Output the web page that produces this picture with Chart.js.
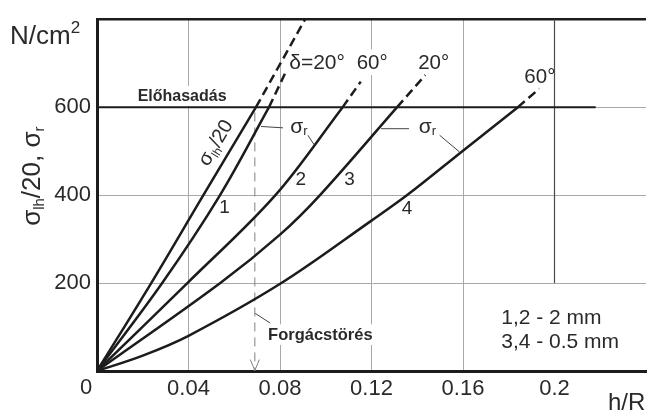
<!DOCTYPE html>
<html>
<head>
<meta charset="utf-8">
<script src="https://cdn.jsdelivr.net/npm/chart.js@4"></script>
<style>
  html, body { margin: 0; padding: 0; background: #fff; }
  canvas { display: block; }
</style>
</head>
<body>
<canvas id="chart" width="651" height="413"></canvas>
<script>
// axis ticks
const xTicks = [0, 0.04, 0.08, 0.12, 0.16, 0.2, 0.24];
const yTicks = [0, 200, 400, 600, 800];

// sigma_lh/20 curve
const lhX = [0, 0.0237, 0.0465, 0.0695];
const lhY = [0, 200, 400, 600];
// sigma_r curves 1..4
const r1X = [0, 0.0285, 0.0538, 0.0752];
const r1Y = [0, 200, 400, 600];
const r2X = [0, 0.0395, 0.078, 0.1074];
const r2Y = [0, 200, 400, 600];
const r3X = [0, 0.0539, 0.08, 0.0975, 0.1312];
const r3Y = [0, 200, 310, 400, 600];
const r4X = [0, 0.02, 0.04, 0.0806, 0.12, 0.1356, 0.16, 0.184];
const r4Y = [0, 35, 80, 200, 342, 400, 501, 600];

// dashed continuation above 600, order: lh, 1, 2, 3, 4
const tipX = [0.091, 0.0825, 0.1153, 0.1435, 0.1934];
const tipY = [800, 680, 658, 673, 642];

// Előhasadás line and Forgácstörés marker
const preSplitY = 600;
const preSplitEndX = 0.218;
const chipBreakX = 0.069;
const chipBreakY = [588, 0];

const FONT = '"Liberation Sans", Arial, sans-serif';
const INK = '#1c1c1c';
const GRID = '#a8a8a8';

Chart.defaults.font.family = FONT;
Chart.defaults.color = '#2a2a2a';

function pts(xs, ys) {
  return xs.map((x, i) => ({ x: x, y: ys[i] }));
}

const curves = [[lhX, lhY], [r1X, r1Y], [r2X, r2Y], [r3X, r3Y], [r4X, r4Y]];
const datasets = [];

curves.forEach(([xs, ys], i) => {
  datasets.push({
    data: pts(xs, ys),
    borderColor: INK, borderWidth: 2.5,
    tension: 0.35
  });
  // dashed part beyond the pre-split level
  const last = xs.length - 1;
  datasets.push({
    data: [{ x: xs[last], y: ys[last] }, { x: tipX[i], y: tipY[i] }],
    borderColor: INK, borderWidth: 2.5,
    borderDash: [9, 5]
  });
});

datasets.push({
  data: [{ x: 0, y: preSplitY }, { x: preSplitEndX, y: preSplitY }],
  borderColor: INK, borderWidth: 2
});
datasets.push({
  data: [{ x: chipBreakX, y: chipBreakY[0] }, { x: chipBreakX, y: chipBreakY[1] }],
  borderColor: '#808080', borderWidth: 1, borderDash: [9, 6]
});
// the 0.2 gridline only runs from 200 upward
datasets.push({
  data: [{ x: 0.2, y: 200 }, { x: 0.2, y: 800 }],
  borderColor: '#4a4a4a', borderWidth: 1.2
});

function drawParts(ctx, x, y, parts) {
  let cx = x;
  parts.forEach(([t, size, dy, bold]) => {
    ctx.font = (bold ? 'bold ' : '') + size + 'px ' + FONT;
    ctx.fillText(t, cx, y + dy);
    cx += ctx.measureText(t).width;
  });
  return cx - x;
}

function partsWidth(ctx, parts) {
  let w = 0;
  parts.forEach(([t, size, dy, bold]) => {
    ctx.font = (bold ? 'bold ' : '') + size + 'px ' + FONT;
    w += ctx.measureText(t).width;
  });
  return w;
}

// labels with a white box behind them (they cut the gridlines)
const boxed = [
  { parts: [['Előhasadás', 16, 0, true]], x: 0.0372, y: 627, align: 'center' },
  { parts: [['Forgácstörés', 16.5, 0, true]], x: 0.0748, y: 84, align: 'left' },
  { parts: [['60°', 20.5, 0]], x: 0.1203, y: 704, align: 'center' }
];

const plain = [
  { parts: [['1', 19, 0]], x: 0.0557, y: 375, align: 'center' },
  { parts: [['2', 19, 0]], x: 0.0891, y: 438, align: 'center' },
  { parts: [['3', 19, 0]], x: 0.1104, y: 438, align: 'center' },
  { parts: [['4', 19, 0]], x: 0.1355, y: 373, align: 'center' },
  { parts: [['δ=20°', 21, 0]], x: 0.0962, y: 704, align: 'center' },
  { parts: [['20°', 20.5, 0]], x: 0.1472, y: 704, align: 'center' },
  { parts: [['60°', 20.5, 0]], x: 0.1936, y: 671, align: 'center' },
  { parts: [['σ', 21, 0], ['r', 13, 2]], x: 0.0845, y: 558, align: 'left' },
  { parts: [['σ', 21, 0], ['r', 13, 2]], x: 0.1407, y: 558, align: 'left' },
  { parts: [['1,2 - 2 mm', 21, 0]], x: 0.1767, y: 124, align: 'left' },
  { parts: [['3,4 - 0.5 mm', 21, 0]], x: 0.1767, y: 69, align: 'left' }
];

// leader lines [x1, y1, x2, y2] in data units
const leaders = [
  [0.0717, 556, 0.0813, 553],
  [0.0922, 536, 0.0950, 514],
  [0.1242, 551, 0.1364, 551],
  [0.1498, 536, 0.1585, 498],
  [0.0692, 131, 0.0757, 109]
];

function placeText(ctx, X, Y, lab) {
  const w = partsWidth(ctx, lab.parts);
  const x0 = lab.align === 'center' ? X(lab.x) - w / 2 : X(lab.x);
  const size = lab.parts[0][1];
  const base = Y(lab.y) + size * 0.36;
  return { x0: x0, base: base, w: w, size: size };
}

const annotations = {
  id: 'annotations',
  beforeDatasetsDraw(chart) {
    const ctx = chart.ctx;
    const X = v => chart.scales.x.getPixelForValue(v);
    const Y = v => chart.scales.y.getPixelForValue(v);
    ctx.save();
    ctx.fillStyle = '#fff';
    boxed.forEach(lab => {
      const p = placeText(ctx, X, Y, lab);
      ctx.fillRect(p.x0 - 4, p.base - p.size * 0.95, p.w + 8, p.size * 1.25);
    });
    ctx.restore();
  },
  afterDatasetsDraw(chart) {
    const ctx = chart.ctx;
    const area = chart.chartArea;
    const X = v => chart.scales.x.getPixelForValue(v);
    const Y = v => chart.scales.y.getPixelForValue(v);
    ctx.save();
    ctx.fillStyle = '#2a2a2a';
    ctx.textBaseline = 'alphabetic';

    boxed.concat(plain).forEach(lab => {
      const p = placeText(ctx, X, Y, lab);
      drawParts(ctx, p.x0, p.base, lab.parts);
    });

    // sigma_lh/20 written along the first curve
    ctx.save();
    ctx.translate(X(0.0515), Y(520));
    ctx.rotate(-59 * Math.PI / 180);
    const lhParts = [['σ', 20, 0], ['lh', 12, 4], ['/20', 20, 0]];
    drawParts(ctx, -partsWidth(ctx, lhParts) / 2, 7, lhParts);
    ctx.restore();

    // leader lines
    ctx.strokeStyle = '#444';
    ctx.lineWidth = 1;
    leaders.forEach(([x1, y1, x2, y2]) => {
      ctx.beginPath();
      ctx.moveTo(X(x1), Y(y1));
      ctx.lineTo(X(x2), Y(y2));
      ctx.stroke();
    });

    // open arrow head on the chip-break line
    ctx.strokeStyle = '#808080';
    ctx.beginPath();
    ctx.moveTo(X(chipBreakX) - 4.5, Y(26));
    ctx.lineTo(X(chipBreakX), Y(1));
    ctx.lineTo(X(chipBreakX) + 4.5, Y(26));
    ctx.stroke();

    // corner zero
    ctx.font = '22px ' + FONT;
    ctx.textAlign = 'center';
    ctx.textBaseline = 'top';
    ctx.fillText('0', X(0) - 11, area.bottom + 6);

    // axis titles
    ctx.textAlign = 'left';
    ctx.textBaseline = 'alphabetic';
    ctx.font = '24px ' + FONT;
    ctx.fillText('h/R', 608, 410);
    const w = drawParts(ctx, 10, 43.5, [['N/cm', 26, 0]]);
    drawParts(ctx, 10 + w, 33, [['2', 17, 0]]);

    ctx.translate(40, Y(443));
    ctx.rotate(-Math.PI / 2);
    const yParts = [['σ', 26, 0], ['lh', 15, 4], ['/20, σ', 26, 0], ['r', 15, 4]];
    drawParts(ctx, -partsWidth(ctx, yParts) / 2, 0, yParts);
    ctx.restore();
  }
};

new Chart(document.getElementById('chart'), {
  type: 'scatter',
  data: { datasets: datasets },
  plugins: [annotations],
  options: {
    responsive: false,
    animation: false,
    showLine: true,
    layout: { padding: { top: 11, left: 0, right: 0, bottom: 0 } },
    elements: { point: { radius: 0, hoverRadius: 0 } },
    plugins: { legend: { display: false }, tooltip: { enabled: false } },
    scales: {
      x: {
        type: 'linear', min: 0, max: 0.24,
        afterBuildTicks: s => { s.ticks = xTicks.map(v => ({ value: v })); },
        afterFit: s => { s.height = 42; },
        ticks: {
          font: { size: 22 }, padding: 5, maxRotation: 0,
          callback: v => (v === 0 || v === 0.24) ? '' : String(v)
        },
        grid: {
          drawTicks: false,
          color: c => [0.04, 0.08, 0.12, 0.16].includes(c.tick.value) ? GRID : 'rgba(0,0,0,0)',
          lineWidth: 1
        },
        border: { color: INK, width: 3 }
      },
      y: {
        min: 0, max: 800,
        afterBuildTicks: s => { s.ticks = yTicks.map(v => ({ value: v })); },
        afterFit: s => { s.width = 97; },
        ticks: {
          font: { size: 22 }, padding: 6,
          callback: v => (v === 0 || v === 800) ? '' : String(v)
        },
        grid: {
          drawTicks: false,
          color: c => c.tick.value === 800 ? INK : (c.tick.value === 0 ? 'rgba(0,0,0,0)' : GRID),
          lineWidth: c => c.tick.value === 800 ? 2.5 : 1
        },
        border: { color: INK, width: 3 }
      }
    }
  }
});
</script>
</body>
</html>
